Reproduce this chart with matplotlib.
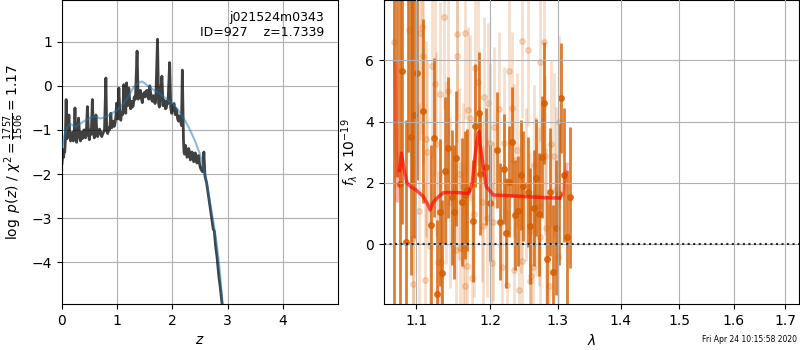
import numpy as np
import matplotlib
matplotlib.use("Agg")
import matplotlib.pyplot as plt
from matplotlib.ticker import FixedLocator, FixedFormatter, NullLocator

# ---------------- Left panel data: log p(z) ----------------
z_pz = [0.00, 0.01, 0.02, 0.03, 0.04, 0.05, 0.06, 0.075, 0.09, 0.10, 0.11, 0.125, 0.14, 0.155,
        0.17, 0.18, 0.19, 0.205, 0.22, 0.235, 0.25, 0.265, 0.28, 0.30, 0.32, 0.335, 0.35, 0.365,
        0.38, 0.395, 0.41, 0.425, 0.44, 0.46, 0.48, 0.495, 0.51, 0.53, 0.55, 0.57, 0.585, 0.60,
        0.615, 0.63, 0.645, 0.66, 0.68, 0.70, 0.72, 0.74, 0.77, 0.795, 0.81, 0.83, 0.84, 0.86,
        0.87, 0.885, 0.90, 0.915, 0.93, 0.945, 0.96, 0.975,
        0.99, 1.01, 1.03, 1.05, 1.065, 1.08, 1.10, 1.12, 1.14, 1.155, 1.17, 1.19, 1.21, 1.23, 1.245,
        1.26, 1.275, 1.29, 1.31, 1.33, 1.36, 1.38, 1.40, 1.42, 1.44, 1.455, 1.47, 1.49, 1.51, 1.525,
        1.54, 1.57, 1.59, 1.61, 1.625, 1.64, 1.655, 1.67, 1.685, 1.70, 1.73, 1.75, 1.765, 1.78, 1.81,
        1.83, 1.845, 1.86, 1.875, 1.89, 1.905, 1.92, 1.95, 1.97, 1.985, 2.00, 2.015,
        2.03, 2.05, 2.065, 2.08, 2.095, 2.11, 2.125, 2.14, 2.165, 2.18, 2.20, 2.21, 2.22, 2.235,
        2.25, 2.265, 2.28, 2.295, 2.31, 2.325, 2.34, 2.355, 2.37, 2.385,
        2.40, 2.415, 2.43, 2.445, 2.46, 2.475, 2.49, 2.505, 2.52, 2.55, 2.57, 2.59, 2.62, 2.66, 2.70,
        2.74, 2.76, 2.78, 2.81, 2.84, 2.87, 2.90, 2.93, 3.00]
logpz = [-1.76, -1.60, -1.55, -1.62, -1.45, -1.50, -1.25, -0.31, -1.20, -1.05, -1.00, -0.66, -1.10, -1.25,
         -1.20, -1.08, -1.05, -1.25, -1.15, -0.50, -1.20, -1.28, -1.10, -0.73, -1.15, -1.25, -1.05, -1.20,
         -1.15, -1.00, -1.00, -1.18, -1.10, -0.47, -1.10, -1.22, -1.00, -1.10, -0.31, -1.05, -1.18, -1.10,
         -0.66, -1.05, -1.15, -1.10, -0.98, -1.05, -1.15, -1.08, -1.00, 0.18, -1.02, -1.08, -0.95, -1.00,
         -0.90, -0.62, -0.95, -0.85, -0.80, -0.92, -0.85, -0.70,
         -0.39, -0.75, -0.05, -0.70, -0.78, -0.60, -0.65, 0.03, -0.50, -0.62, 0.07, -0.45, -0.05, -0.40, -0.52,
         -0.35, -0.48, -0.45, -0.25, -0.30, 0.79, -0.30, -0.25, -0.10, -0.30, -0.38, -0.20, -0.15, -0.25, -0.12,
         -0.10, -0.30, 0.00, -0.20, -0.32, -0.35, -0.22, -0.25, -0.40, -0.30, 1.06, -0.40, -0.48, -0.30, 0.22,
         -0.45, -0.32, -0.35, -0.52, -0.50, -0.35, -0.40, 0.53, -0.50, -0.62, -0.55, -0.45,
         -0.40, -0.65, -0.52, -0.60, -0.75, -0.80, -0.68, -0.75, -0.90, 0.36, -1.20, -1.50, -1.55, -1.35,
         -1.45, -1.62, -1.60, -1.42, -1.50, -1.68, -1.65, -1.50, -1.55, -1.72,
         -1.70, -1.52, -1.60, -1.75, -1.65, -1.58, -1.75, -1.85, -1.90, -1.95, -1.50, -2.05, -2.20, -2.55, -2.90,
         -3.25, -3.30, -3.60, -3.90, -4.30, -4.60, -4.95, -5.30, -6.20]

z_prior = [0.00, 0.05, 0.10, 0.15, 0.20, 0.25, 0.30, 0.40, 0.50, 0.60, 0.65, 0.70, 0.80, 0.90,
           1.00, 1.10, 1.20, 1.30, 1.40, 1.45, 1.50, 1.55, 1.60, 1.70, 1.80, 1.90, 2.00, 2.10,
           2.20, 2.30, 2.40, 2.50, 2.55, 2.60, 2.65, 2.70, 2.75, 2.80, 2.85, 2.90, 2.95]
prior = [-1.38, -1.10, -0.92, -0.86, -0.90, -0.93, -0.88, -0.80, -0.73, -0.69, -0.72, -0.74, -0.70, -0.62,
         -0.55, -0.42, -0.25, -0.02, 0.08, 0.10, 0.06, 0.00, -0.04, -0.12, -0.20, -0.30, -0.40, -0.54,
         -0.72, -0.95, -1.22, -1.55, -1.78, -2.05, -2.40, -2.78, -3.15, -3.55, -4.10, -4.80, -5.60]

# ---------------- Right panel data: spectrum ----------------
wave_d = [1.0822, 1.1085, 1.0935, 1.1234, 1.0866, 1.0974, 1.1189, 1.1274, 1.1315, 1.1342,
          1.1378, 1.1423, 1.1469, 1.1504, 1.1531, 1.1604, 1.1649, 1.1685, 1.1757, 1.1797,
          1.1842, 1.1865, 1.1942, 1.2000, 1.2107, 1.2147, 1.2196, 1.2231, 1.2269, 1.2319,
          1.2357, 1.2397, 1.2441, 1.2481, 1.2554, 1.2588, 1.2637, 1.2676, 1.2721, 1.2765,
          1.2794, 1.2843, 1.2882, 1.2931, 1.2971, 1.3015, 1.3043, 1.3097, 1.3140, 1.3182,
          1.1009, 1.0792, 1.0718, 1.0760, 1.0900, 1.0950]
flux_d = [5.65, 4.35, 3.50, 3.47, 0.05, 4.20, 0.62, -1.63, 1.04, -0.96,
          2.39, 3.15, 1.53, 1.05, 2.80, 1.37, 1.60, 1.77, 0.75, 3.87,
          4.27, 2.28, 2.53, 1.33, 3.07, 0.73, 2.45, 0.35, 2.04, 3.32,
          0.94, 1.09, 2.26, 1.90, 1.71, 0.59, 1.17, 2.17, 0.97, 2.84,
          4.60, -0.49, 1.70, -0.93, 0.53, 1.63, 4.76, 2.25, 0.22, 1.53,
          5.60, 1.96, 8.50, 8.20, 8.50, 9.00]
err_d = [5.0, 3.0, 4.5, 2.6, 4.0, 4.0, 2.6, 2.4, 2.4, 2.4,
         2.4, 2.3, 2.2, 2.2, 2.2, 2.1, 2.1, 2.0, 2.0, 2.0,
         2.0, 2.0, 1.9, 1.9, 1.9, 1.9, 1.8, 1.8, 1.8, 1.8,
         1.8, 1.8, 1.8, 1.8, 1.8, 1.9, 1.9, 1.9, 2.0, 2.0,
         2.0, 2.1, 2.1, 2.2, 2.2, 2.3, 1.8, 2.2, 2.2, 2.3,
         3.5, 6.0, 11.0, 6.0, 5.5, 7.0]

wave_l = [1.0718, 1.0913, 1.1054, 1.1081, 1.1090, 1.1207, 1.1247, 1.1311, 1.1369, 1.1415,
          1.1541, 1.1545, 1.1653, 1.1699, 1.1720, 1.1788, 1.1838, 1.1919, 1.1977, 1.2059,
          1.2128, 1.2269, 1.2313, 1.2466, 1.2548, 1.2725, 1.2784, 1.2637, 1.2897, 1.2809,
          1.2946, 1.3011, 1.2824, 1.2731, 1.2868, 1.2628, 1.2603, 1.2579, 1.2416, 1.2460,
          1.2343, 1.2246, 1.2176, 1.2029, 1.2049, 1.1909, 1.1955, 1.1753, 1.1685, 1.1649,
          1.1577, 1.1626, 1.1527, 1.1324, 1.1288, 1.1117, 1.0957, 1.0965, 1.1036, 1.1180,
          1.1135, 1.1122, 1.1257, 1.1392, 1.1450, 1.1572, 1.1631, 1.1774, 1.1888, 1.2000,
          1.2196, 1.2343, 1.2393, 1.2441, 1.2515, 1.2588, 1.2672, 1.2710, 1.2980, 1.3005]
flux_l = [6.59, 6.98, 6.89, 7.08, 6.14, 5.82, 5.23, 4.90, 7.41, 5.01,
          6.87, 6.14, 6.89, 4.38, 4.12, 5.75, 5.29, 4.81, 4.61, 3.82,
          4.42, 5.66, 4.43, 6.63, 6.34, 5.95, 6.59, 2.58, 3.27, 2.88,
          2.88, 3.99, 0.53, 0.22, -1.36, -0.74, -1.04, -1.20, -1.50, -0.55,
          -0.86, -1.35, -0.74, -0.62, 0.73, 0.60, 0.86, -1.11, -0.73, -1.38,
          -0.13, -0.17, -0.20, -0.60, -0.60, -1.17, -1.30, 0.19, 1.09, -0.08,
          3.00, 3.43, 3.27, 2.34, 1.36, 2.28, 1.90, 0.97, 1.36, 3.29,
          3.29, 2.74, 3.07, 1.55, 1.93, 0.42, 1.55, 1.23, 1.78, -0.44]
err_l = [4.5, 4.0, 3.5, 3.5, 3.5, 3.0, 3.0, 3.0, 3.0, 3.0,
         2.8, 2.8, 2.8, 2.7, 2.7, 2.7, 2.7, 2.6, 2.6, 2.6,
         2.5, 2.5, 2.5, 2.5, 2.5, 2.6, 2.6, 2.6, 2.7, 2.6,
         2.7, 2.8, 2.6, 2.6, 2.7, 2.5, 2.5, 2.5, 2.5, 2.5,
         2.5, 2.5, 2.5, 2.6, 2.6, 2.6, 2.6, 2.7, 2.7, 2.7,
         2.8, 2.8, 2.8, 3.0, 3.0, 3.2, 4.0, 4.0, 3.5, 3.0,
         3.0, 3.2, 3.0, 3.0, 2.8, 2.8, 2.7, 2.7, 2.6, 2.6,
         2.5, 2.5, 2.5, 2.5, 2.5, 2.6, 2.6, 2.6, 2.7, 2.8]

wave_m = [1.0727, 1.0740, 1.0757, 1.0785, 1.0810, 1.0840, 1.0880, 1.0935, 1.1000, 1.1092,
          1.1150, 1.1182, 1.1220, 1.1272, 1.1362, 1.1545, 1.1705, 1.1751, 1.1788, 1.1820,
          1.1847, 1.1860, 1.1905, 1.1950, 1.2049, 1.2343, 1.2834, 1.3029, 1.3080, 1.3110, 1.3140]
flux_m = [5.90, 4.00, 1.40, 2.40, 2.97, 2.50, 2.00, 1.86, 1.76, 1.55,
          1.30, 1.11, 1.35, 1.50, 1.68, 1.68, 1.65, 1.98, 2.80, 3.40,
          3.67, 3.29, 2.53, 1.87, 1.60, 1.57, 1.51, 1.50, 1.60, 2.20, 2.60]

xticks_r = [1.1, 1.2, 1.3, 1.4, 1.5, 1.6, 1.7]
xticklabels_r = ['1.1', '1.2', '1.3', '1.4', '1.5', '1.6', '1.7']

label_text = "j021524m0343\nID=927    z=1.7339"
date_text = "Fri Apr 24 10:15:58 2020"

# ---------------- Figure ----------------
fig = plt.figure(figsize=(8, 3.5), dpi=100)
ax1 = fig.add_axes([0.0775, 0.1314, 0.345, 0.8686])
ax2 = fig.add_axes([0.48, 0.1314, 0.51875, 0.8686])

# Left panel
ax1.plot(z_prior, prior, color='tab:blue', alpha=0.5, lw=1.5, zorder=3)
ax1.plot(z_pz, logpz, color='k', alpha=0.75, lw=2, zorder=2)
ax1.set_xlim(0, 5.0)
ax1.set_ylim(-4.95, 1.95)
ax1.set_xticks([0, 1, 2, 3, 4])
ax1.set_yticks([-4, -3, -2, -1, 0, 1])
ax1.grid(True)
ax1.set_axisbelow(True)
ax1.set_xlabel(r'$z$')
ax1.set_ylabel(r'$\log\ p(z)$ / $\chi^2=\frac{1757}{1506}=1.17$')
ax1.text(0.95, 0.965, label_text, transform=ax1.transAxes, ha='right', va='top',
         fontsize=9, multialignment='right', linespacing=1.2)

# Right panel
col = '#d55e00'
ax2.errorbar(wave_l, flux_l, yerr=err_l, fmt='o', color=col, alpha=0.2,
             ms=4, elinewidth=2, zorder=1.5)
ax2.errorbar(wave_d, flux_d, yerr=err_d, fmt='o', color=col, alpha=0.8,
             ms=4, elinewidth=2, zorder=1.6)
wm = np.array(wave_m)
fm = np.array(flux_m)
ax2.plot(wm[:4], fm[:4], color='r', alpha=0.3, lw=2.5, zorder=4)
ax2.plot(wm[3:-3], fm[3:-3], color='r', alpha=0.65, lw=2.5, zorder=4)
ax2.plot(wm[-4:], fm[-4:], color='r', alpha=0.3, lw=2.5, zorder=4)
ax2.axhline(0, color='k', ls=':', lw=1.5, alpha=0.8, zorder=5)
ax2.set_xscale('log')
ax2.set_xlim(1.059, 1.728)
ax2.set_ylim(-1.96, 7.97)
ax2.xaxis.set_major_locator(FixedLocator(xticks_r))
ax2.xaxis.set_major_formatter(FixedFormatter(xticklabels_r))
ax2.xaxis.set_minor_locator(NullLocator())
ax2.set_yticks([0, 2, 4, 6])
ax2.grid(True, zorder=3)
ax2.set_axisbelow(False)
ax2.set_xlabel(r'$\lambda$')
ax2.set_ylabel(r'$f_\lambda\times10^{-19}$')

fig.text(0.996, 0.029, date_text, ha='right', va='center', fontsize=5.5)

fig.savefig('out.png', dpi=100)
